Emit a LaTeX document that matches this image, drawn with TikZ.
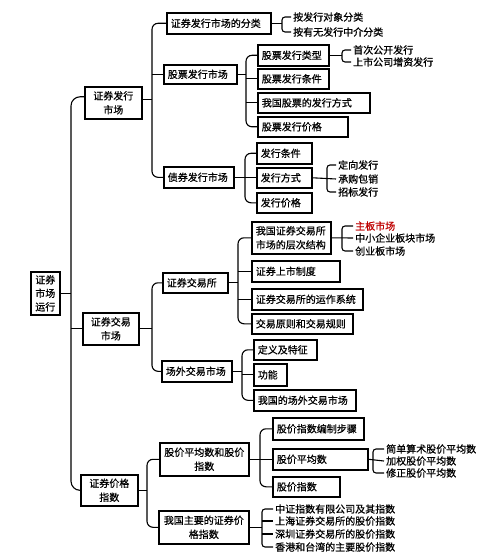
\documentclass[tikz,border=0pt]{standalone}
\usepackage{fontspec}
\setmainfont{Noto Sans CJK SC}[FakeBold=0.7]
\begin{document}
\begin{tikzpicture}[x=1pt,y=-1pt,
  box/.style={draw, line width=1.6pt, inner xsep=4pt, inner ysep=0pt, anchor=north west, align=left, font=\fontsize{10}{14}\selectfont},
  cbox/.style={box, align=center},
  leaf/.style={anchor=west, inner xsep=2pt, inner ysep=0pt, font=\fontsize{10}{12}\selectfont},
  conn/.style={line width=1.1pt},
  rc/.style={conn, rounded corners=6pt},
  br/.style={conn, rounded corners=3pt}]
\fill[white] (0,0) rectangle (483,556);
\useasboundingbox (0,0) rectangle (483,556);

% root and level 1
\node[cbox, minimum width=29, minimum height=43, text width=21, inner xsep=4pt, font=\fontsize{10}{13.5}\selectfont] (R) at (30,271) {证券\\市场\\运行};
\node[cbox, minimum width=57, minimum height=32, text width=49] (L1a) at (84,86) {证券发行\\市场};
\node[cbox, minimum width=56, minimum height=32, text width=48] (L1b) at (82,312) {证券交易\\市场};
\node[cbox, minimum width=57, minimum height=31, text width=49] (L1c) at (80,474) {证券价格\\指数};

\coordinate (s0) at (71,0);
\draw[conn] (R.east) -- (R.east -| s0);
\draw[rc, rounded corners=9pt] ([yshift=6pt]L1a.west) -- ([yshift=6pt]L1a.west -| s0) -- (L1c.west -| s0) -- (L1c.west);
\draw[conn] (L1b.west -| s0) -- (L1b.west);

% level 2 under 证券发行市场
\node[box, minimum width=104, minimum height=21, text width=96] (A1) at (166,12) {证券发行市场的分类};
\node[box, minimum width=73, minimum height=19, text width=65] (A2) at (163,64) {股票发行市场};
\node[box, minimum width=70, minimum height=21, text width=62] (A3) at (163,166) {债券发行市场};
\coordinate (s1) at (152,0);
\draw[conn] ([yshift=3pt]L1a.east) -- ([yshift=3pt]L1a.east -| s1);
\draw[rc] (A1.west) -- (A1.west -| s1) -- (A3.west -| s1) -- (A3.west);
\draw[conn] (A2.west -| s1) -- (A2.west);

% brace under 证券发行市场的分类
\node[leaf] (a1) at (291,17) {按发行对象分类};
\node[leaf] (a2) at (291,32) {按有无发行中介分类};
\coordinate (ba) at (282,0);
\draw[conn] (A1.east) -- (A1.east -| ba);
\draw[br] (a1.west) -- (a1.west -| ba) -- (a2.west -| ba) -- (a2.west);

% level 3 under 股票发行市场
\node[box, minimum width=71, minimum height=21, text width=63] (B1) at (257,44) {股票发行类型};
\node[box, minimum width=71, minimum height=20, text width=63] (B2) at (257,68) {股票发行条件};
\node[box, minimum width=112, minimum height=20, text width=104] (B3) at (257,92) {我国股票的发行方式};
\node[box, minimum width=90, minimum height=20, text width=82] (B4) at (257,116) {股票发行价格};
\coordinate (s2) at (246,0);
\draw[conn] (A2.east) -- (A2.east -| s2);
\draw[rc] (B1.west) -- (B1.west -| s2) -- (B4.west -| s2) -- (B4.west);
\draw[conn] (B2.west -| s2) -- (B2.west);
\draw[conn] (B3.west -| s2) -- (B3.west);

\node[leaf] (b1) at (351,50) {首次公开发行};
\node[leaf] (b2) at (351,62) {上市公司增资发行};
\coordinate (bb) at (342,0);
\draw[conn] (B1.east) -- (B1.east -| bb);
\draw[br] (b1.west) -- (b1.west -| bb) -- (b2.west -| bb) -- (b2.west);

% under 债券发行市场
\node[box, minimum width=55, minimum height=21, text width=47] (C1) at (256,142) {发行条件};
\node[box, minimum width=55, minimum height=20, text width=47] (C2) at (256,167) {发行方式};
\node[box, minimum width=55, minimum height=20, text width=47] (C3) at (256,192) {发行价格};
\coordinate (s3) at (245,0);
\draw[conn] (A3.east) -- (A3.east -| s3);
\draw[rc] (C1.west) -- (C1.west -| s3) -- (C3.west -| s3) -- (C3.west);
\draw[conn] (C2.west -| s3) -- (C2.west);

\node[leaf] (c1) at (336,165) {定向发行};
\node[leaf] (c2) at (336,179) {承购包销};
\node[leaf] (c3) at (336,192) {招标发行};
\coordinate (bc) at (327,0);
\draw[conn] (C2.east) -- (c2.west);
\draw[br] (c1.west) -- (c1.west -| bc) -- (c3.west -| bc) -- (c3.west);

% level 2 under 证券交易市场
\node[box, minimum width=65, minimum height=20, text width=57] (D1) at (162,272) {证券交易所};
\node[box, minimum width=70, minimum height=21, text width=62] (D2) at (161,360) {场外交易市场};
\coordinate (s4) at (152,0);
\draw[conn] (L1b.east) -- (L1b.east -| s4);
\draw[rc] (D1.west) -- (D1.west -| s4) -- (D2.west -| s4) -- (D2.west);

% under 证券交易所
\node[box, minimum width=79, minimum height=32, text width=71] (E1) at (251,221) {我国证券交易所\\市场的层次结构};
\node[box, minimum width=88, minimum height=21, text width=80] (E2) at (251,260) {证券上市制度};
\node[box, minimum width=111, minimum height=21, text width=103] (E3) at (251,288) {证券交易所的运作系统};
\node[box, minimum width=101, minimum height=20, text width=93] (E4) at (251,313) {交易原则和交易规则};
\coordinate (s5) at (238,0);
\draw[conn] (D1.east) -- (D1.east -| s5);
\draw[rc] (E1.west) -- (E1.west -| s5) -- (E4.west -| s5) -- (E4.west);
\draw[conn] (E2.west -| s5) -- (E2.west);
\draw[conn] (E3.west -| s5) -- (E3.west);

\node[leaf, text=red!75!black] (e1) at (353,226) {主板市场};
\node[leaf] (e2) at (353,238) {中小企业板块市场};
\node[leaf] (e3) at (353,251) {创业板市场};
\coordinate (be) at (342,0);
\draw[conn] (E1.east) -- (e2.west);
\draw[br] (e1.west) -- (e1.west -| be) -- (e3.west -| be) -- (e3.west);

% under 场外交易市场
\node[box, minimum width=63, minimum height=20, text width=55] (F1) at (253,339) {定义及特征};
\node[box, minimum width=33, minimum height=22, text width=25] (F2) at (253,363) {功能};
\node[box, minimum width=102, minimum height=21, text width=94] (F3) at (253,389) {我国的场外交易市场};
\coordinate (s6) at (242,0);
\draw[conn] (D2.east) -- (D2.east -| s6);
\draw[rc] (F1.west) -- (F1.west -| s6) -- (F3.west -| s6) -- (F3.west);
\draw[conn] (F2.west -| s6) -- (F2.west);

% level 2 under 证券价格指数
\node[cbox, minimum width=89, minimum height=33, text width=81] (G1) at (159,442) {股价平均数和股价\\指数};
\node[cbox, minimum width=90, minimum height=33, text width=82] (G2) at (158,510) {我国主要的证券价\\格指数};
\coordinate (s7) at (147,0);
\draw[conn] (L1c.east) -- (L1c.east -| s7);
\draw[rc] (G1.west) -- (G1.west -| s7) -- (G2.west -| s7) -- (G2.west);

% under 股价平均数和股价指数
\node[box, minimum width=91, minimum height=22, text width=83] (H1) at (272,417) {股价指数编制步骤};
\node[box, minimum width=95, minimum height=21, text width=87] (H2) at (272,448) {股价平均数};
\node[box, minimum width=67, minimum height=20, text width=59] (H3) at (272,476) {股价指数};
\coordinate (s8) at (260,0);
\draw[conn] (G1.east) -- (G1.east -| s8);
\draw[rc] (H1.west) -- (H1.west -| s8) -- (H3.west -| s8) -- (H3.west);
\draw[conn] (H2.west -| s8) -- (H2.west);

\node[leaf] (h1) at (384,449) {简单算术股价平均数};
\node[leaf] (h2) at (384,461) {加权股价平均数};
\node[leaf] (h3) at (384,473) {修正股价平均数};
\coordinate (bh) at (373,0);
\draw[conn] (H2.east) -- (h2.west);
\draw[br] (h1.west) -- (h1.west -| bh) -- (h3.west -| bh) -- (h3.west);

% under 我国主要的证券价格指数
\node[leaf] (g1) at (273,509) {中证指数有限公司及其指数};
\node[leaf] (g2) at (273,521) {上海证券交易所的股价指数};
\node[leaf] (g3) at (273,534) {深圳证券交易所的股价指数};
\node[leaf] (g4) at (273,547) {香港和台湾的主要股价指数};
\coordinate (bg) at (262,0);
\draw[conn] (G2.east) -- (G2.east -| bg);
\draw[br] (g1.west) -- (g1.west -| bg) -- (g4.west -| bg) -- (g4.west);
\draw[conn] (g2.west -| bg) -- (g2.west);
\draw[conn] (g3.west -| bg) -- (g3.west);
\end{tikzpicture}
\end{document}
